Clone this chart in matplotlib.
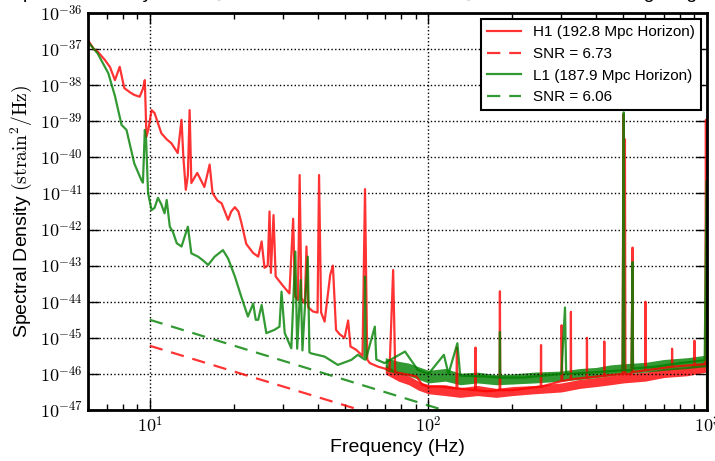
import numpy as np
import matplotlib
matplotlib.use('Agg')
import matplotlib.pyplot as plt
from matplotlib.ticker import FuncFormatter, LogLocator, NullLocator

plt.rcParams['font.family'] = ['Liberation Sans', 'DejaVu Sans']
plt.rcParams['mathtext.fontset'] = 'cm'

# H1 spectrum: frequency (Hz) and log10 of spectral density
h1_freq = [6.0, 6.3, 6.5, 6.9, 7.2, 7.5, 7.8, 8.1, 8.5, 8.8, 9.2, 9.45, 9.6, 9.73, 9.9,
           10.15, 10.4, 10.7, 11.0, 11.5, 11.96, 12.6, 13.0, 13.2, 13.47, 13.7, 13.9, 14.1,
           14.8, 15.7, 16.4, 16.8, 17.5, 18.1, 19.1, 19.6, 20.2, 20.8, 21.3, 22.2, 23.5,
           24.5, 25.2, 25.8, 26.5, 26.9, 27.2, 27.8, 28.3, 30.0, 31.7, 32.7, 33.2, 34.0,
           34.5, 35.0, 36.0, 36.5, 37.0, 38.5, 40.0, 40.5, 41.2, 42.4, 44.4, 45.4, 46.6,
           48.0, 50.0, 51.5, 52.5, 55.0, 58.0, 59.2, 60.3, 61.6, 66.0, 72.5, 74.7, 76.0,
           82.0, 90.5, 95.0, 100.0, 110.0, 126.0, 126.5, 127.0, 147.0, 147.5, 148.0, 162.0,
           180.0, 180.5, 181.0, 200.0, 253.0, 253.5, 254.0, 284.0, 300.0, 300.5, 302.0,
           324.0, 324.5, 325.0, 370.0, 370.5, 371.0, 427.0, 427.5, 428.0, 497.0, 501.0,
           503.0, 507.0, 509.0, 535.0, 540.0, 542.0, 600.0, 600.5, 601.0, 748.0, 748.5,
           749.0, 900.0, 900.5, 901.0, 985.0, 990.0, 995.0, 1000.0]
h1_logpsd = [-36.75, -37.0, -37.07, -37.3, -37.5, -37.86, -37.49, -38.08, -38.2, -38.27,
             -38.32, -38.1, -37.86, -39.43, -39.2, -38.69, -38.77, -39.05, -39.33, -39.5,
             -39.61, -39.88, -38.96, -40.0, -40.9, -40.5, -38.69, -40.71, -40.43, -40.82,
             -40.2, -40.99, -41.2, -41.27, -41.73, -41.5, -41.38, -41.5, -41.8, -42.4,
             -42.65, -42.75, -42.33, -43.06, -43.0, -41.5, -43.2, -41.6, -43.3, -43.55,
             -43.77, -41.7, -43.85, -43.95, -40.49, -43.9, -44.05, -42.47, -44.15, -44.27,
             -44.3, -40.49, -44.3, -44.55, -43.26, -43.0, -44.78, -44.9, -45.0, -44.52,
             -45.24, -45.33, -45.5, -40.88, -45.6, -45.7, -45.8, -45.89, -43.12, -45.95,
             -46.0, -46.07, -46.3, -46.35, -46.35, -46.4, -45.27, -46.4, -46.45, -45.27,
             -46.45, -46.48, -46.45, -43.71, -46.45, -46.45, -46.35, -45.2, -46.35, -46.25,
             -46.2, -44.65, -46.2, -46.15, -44.28, -46.15, -46.1, -45.0, -46.1, -46.05,
             -45.1, -46.05, -46.0, -38.8, -46.0, -39.5, -46.0, -46.0, -42.5, -45.95, -45.9,
             -44.0, -45.9, -45.8, -45.3, -45.8, -45.75, -45.08, -45.75, -45.73, -38.96,
             -45.7, -45.8]

# L1 spectrum
l1_freq = [6.0, 6.5, 7.1, 7.5, 7.92, 8.25, 8.8, 9.33, 9.45, 9.6, 9.7, 9.86, 10.15, 10.4,
           10.7, 11.0, 11.3, 11.5, 11.8, 12.1, 12.5, 13.0, 13.7, 14.1, 14.9, 15.5, 16.2,
           17.1, 18.3, 19.1, 20.2, 21.3, 22.5, 23.5, 24.0, 24.5, 25.2, 26.2, 28.0, 29.2,
           29.7, 30.5, 32.2, 33.3, 33.8, 34.8, 35.3, 36.9, 37.4, 37.9, 42.4, 47.3, 52.9,
           55.8, 59.0, 59.2, 59.6, 64.2, 65.0, 69.6, 82.4, 91.6, 100.0, 113.6, 118.0,
           127.0, 130.0, 159.0, 180.0, 180.5, 181.0, 220.0, 300.0, 309.0, 312.0, 400.0,
           497.0, 502.0, 505.0, 535.0, 540.0, 542.0, 650.0, 800.0, 980.0, 995.0, 1000.0]
l1_logpsd = [-36.8, -37.12, -37.67, -38.3, -39.1, -39.24, -40.17, -40.63, -40.7, -39.24,
             -39.5, -40.99, -41.46, -41.4, -41.12, -41.3, -41.55, -41.18, -41.92, -42.06,
             -42.38, -42.47, -41.92, -42.66, -42.75, -42.85, -42.98, -42.75, -42.57, -42.8,
             -43.3, -43.86, -44.41, -44.05, -44.5, -44.5, -44.09, -44.87, -44.78, -44.69,
             -43.72, -44.87, -45.29, -42.61, -45.3, -43.4, -45.35, -42.75, -45.4, -45.43,
             -45.52, -45.75, -45.61, -45.47, -45.6, -43.3, -45.6, -44.69, -45.6, -45.7,
             -45.38, -45.89, -46.0, -45.47, -46.0, -45.15, -46.05, -46.07, -46.1, -44.84,
             -46.1, -46.1, -46.0, -44.16, -46.0, -45.95, -45.9, -38.75, -45.9, -45.9,
             -42.9, -45.85, -45.8, -45.7, -45.62, -40.65, -47.5]

# spread of the noisy floor above 70 Hz (log10 lower / upper edge)
band_freq = [70, 78, 85, 92, 100, 115, 130, 150, 175, 200, 240, 300, 350, 400, 450, 500,
             600, 700, 850, 990]
h1_band_lo = [-46.0, -46.2, -46.3, -46.45, -46.55, -46.6, -46.65, -46.6, -46.65, -46.6,
              -46.55, -46.5, -46.4, -46.35, -46.3, -46.25, -46.2, -46.1, -46.05, -45.95]
h1_band_hi = [-45.75, -45.95, -46.05, -46.2, -46.3, -46.3, -46.38, -46.32, -46.4, -46.35,
              -46.32, -46.25, -46.15, -46.1, -46.05, -46.0, -45.95, -45.85, -45.8, -45.65]
l1_band_lo = [-45.9, -46.0, -46.05, -46.15, -46.25, -46.2, -46.3, -46.25, -46.3, -46.28,
              -46.25, -46.2, -46.15, -46.1, -46.05, -46.0, -45.95, -45.9, -45.85, -45.8]
l1_band_hi = [-45.55, -45.65, -45.7, -45.8, -45.9, -45.85, -45.98, -45.95, -46.02, -46.0,
              -45.95, -45.92, -45.85, -45.82, -45.75, -45.72, -45.68, -45.6, -45.55, -45.48]

# matched-filter SNR lines (end points)
h1_snr_freq = [10.0, 56.8]
h1_snr_logpsd = [-45.22, -47.0]
l1_snr_freq = [10.0, 113.0]
l1_snr_logpsd = [-44.5, -47.0]

labels = ['H1 (192.8 Mpc Horizon)', 'SNR = 6.73', 'L1 (187.9 Mpc Horizon)', 'SNR = 6.06']

red = (1, 0, 0, 0.8)
green = (0, 0.5, 0, 0.8)

fig = plt.figure(figsize=(7.15, 4.61), dpi=100)
ax = fig.add_axes([0.123, 0.1106, 0.866, 0.8612])

p = lambda a: 10.0 ** np.array(a)

ax.fill_between(band_freq, p(h1_band_lo), p(h1_band_hi), color=red, lw=0)
ax.plot(h1_freq, p(h1_logpsd), color=red, lw=1.6, label=labels[0])
ax.plot(h1_snr_freq, p(h1_snr_logpsd), color=red, lw=1.6, ls='--', dashes=(6, 4), label=labels[1])
ax.fill_between(band_freq, p(l1_band_lo), p(l1_band_hi), color=green, lw=0)
ax.plot(l1_freq, p(l1_logpsd), color=green, lw=1.6, label=labels[2])
ax.plot(l1_snr_freq, p(l1_snr_logpsd), color=green, lw=1.6, ls='--', dashes=(6, 4), label=labels[3])

ax.set_xscale('log')
ax.set_yscale('log')
ax.set_xlim(6, 1000)
ax.set_ylim(1e-47, 1e-36)

fmt = FuncFormatter(lambda v, pos: r'$10^{%d}$' % int(round(np.log10(v))))
ax.xaxis.set_major_formatter(fmt)
ax.yaxis.set_major_formatter(fmt)
ax.yaxis.set_major_locator(LogLocator(base=10, numticks=20))
ax.yaxis.set_minor_locator(NullLocator())
ax.tick_params(which='both', direction='in', top=True, right=True, labelsize=13)
ax.tick_params(which='major', length=8, width=1)
ax.tick_params(which='minor', length=4, width=1)
ax.tick_params(axis='x', pad=4)

ax.grid(True, which='major', color='k', ls=':', lw=1)
for s in ax.spines.values():
    s.set_linewidth(2)

ax.set_xlabel('Frequency (Hz)', fontsize=14, labelpad=2)
ax.set_ylabel(r'Spectral Density $(\mathrm{strain}^2/\mathrm{Hz})$', fontsize=14)

leg = ax.legend(loc='upper right', fontsize=11, fancybox=False, framealpha=1,
                edgecolor='k', borderaxespad=0.4, handlelength=2.2)
leg.get_frame().set_linewidth(1.5)

# title sits mostly above the visible area, as in the original crop
fig.text(0.5, 1.004, 'Power Spectral Density of H1 @ GPS 1126259462 and L1 @ GPS 1126259462 gating applied',
         ha='center', va='baseline', fontsize=14)

fig.savefig('out.png', dpi=100)
